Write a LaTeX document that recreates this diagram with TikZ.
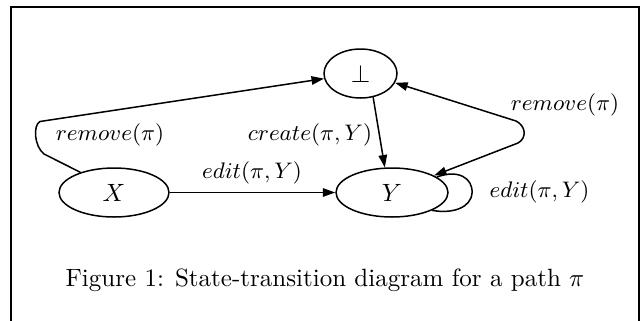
\documentclass[tikz,border=0pt]{standalone}
\usetikzlibrary{arrows.meta,shapes.geometric}
\begin{document}
\begin{tikzpicture}[x=0.4pt,y=-0.4pt,
  state/.style={draw,ellipse,line width=0.6pt,inner sep=0pt,minimum height=19.6pt},
  edge/.style={line width=0.6pt,-{Triangle[length=5pt,width=3.4pt]}},
  biedge/.style={line width=0.6pt,{Triangle[length=5pt,width=3.4pt]}-{Triangle[length=5pt,width=3.4pt]}},
  plain/.style={line width=0.6pt},
  lbl/.style={inner sep=0pt,font=\fontsize{9.2}{11}\selectfont},
  frame/.style={draw,line width=0.9pt}]
\useasboundingbox (0,0) rectangle (644,320);
\draw[frame] (11,340) -- (11,7) -- (639,7) -- (639,340);
\node[state,minimum width=44pt] (X) at (114,192.5) {$X$};
\node[state,minimum width=44.8pt] (Y) at (392,192.5) {$Y$};
\node[state,minimum width=29.2pt] (B) at (360.5,73.5) {$\perp$};
\coordinate (l1) at (44,154);
\coordinate (l2) at (40,121.5);
\coordinate (r1) at (516,121);
\coordinate (r2) at (518,143);
\coordinate (s1) at (472,193);
\draw[edge] (X) -- (Y);
\draw[edge] (B.-62) -- (Y.106);
\draw[edge] (X.149) -- (l1) .. controls (34,146) and (33,125) .. (l2) -- (B.188);
\draw[biedge] (B.-15) -- (r1) .. controls (526,126) and (527,138) .. (r2) -- (Y.22);
\draw[plain] (Y.19) .. controls (458,169) and (473,178) .. (s1) .. controls (471,208) and (452,214) .. (Y.-24);
\node[lbl] (t1) at (110,135) {$remove(\pi)$};
\node[lbl] (t2) at (310,135) {$create(\pi, Y)$};
\node[lbl] (t3) at (252,173) {$edit(\pi, Y)$};
\node[lbl] (t4) at (565,105) {$remove(\pi)$};
\node[lbl] (t5) at (539.5,192) {$edit(\pi, Y)$};
\node[inner sep=0pt] (cap) at (325,280) {Figure 1: State-transition diagram for a path $\pi$};
\end{tikzpicture}
\end{document}
